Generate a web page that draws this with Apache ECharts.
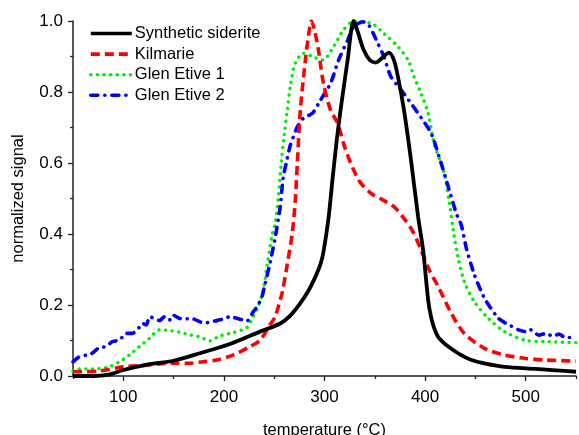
<!DOCTYPE html>
<html>
<head>
<meta charset="utf-8">
<script src="https://cdn.jsdelivr.net/npm/echarts@6/dist/echarts.min.js"></script>
<style>
html,body{margin:0;padding:0;background:#fff;}
#chart{width:579px;height:435px;}
</style>
</head>
<body>
<div id="chart"></div>
<script>
// ---- data ----
const seriesNames = ['Synthetic siderite', 'Kilmarie', 'Glen Etive 1', 'Glen Etive 2'];

const sideriteT = [50, 70, 86, 100, 124, 150, 176, 206, 236, 256, 266, 276, 284, 291, 296, 299, 304, 308, 312, 316, 323, 329, 333, 339, 345, 351, 357, 364, 369, 373, 379, 386, 393, 398, 403, 406, 409, 413, 418, 423, 435, 446, 460, 479, 510, 530, 550];
const sideriteY = [0.0, 0.0, 0.004, 0.017, 0.032, 0.043, 0.064, 0.09, 0.125, 0.148, 0.17, 0.205, 0.24, 0.28, 0.315, 0.35, 0.445, 0.555, 0.66, 0.75, 0.89, 1.0, 0.97, 0.918, 0.89, 0.883, 0.895, 0.911, 0.89, 0.843, 0.749, 0.608, 0.449, 0.355, 0.215, 0.165, 0.135, 0.11, 0.095, 0.083, 0.06, 0.045, 0.035, 0.026, 0.02, 0.016, 0.012];

const kilmarieT = [50, 75, 100, 120, 149, 166, 179, 193, 209, 226, 236, 246, 251, 256, 258, 263, 268, 271, 273, 276, 281, 284, 287, 290, 294, 299, 306, 313, 321, 334, 346, 358, 369, 379, 388, 396, 404, 413, 426, 439, 459, 479, 499, 519, 550];
const kilmarieY = [0.012, 0.014, 0.026, 0.03, 0.036, 0.036, 0.04, 0.045, 0.059, 0.083, 0.101, 0.145, 0.167, 0.215, 0.235, 0.315, 0.403, 0.496, 0.6, 0.749, 0.89, 0.956, 1.0, 0.975, 0.918, 0.824, 0.749, 0.712, 0.637, 0.552, 0.515, 0.496, 0.477, 0.444, 0.406, 0.355, 0.299, 0.252, 0.177, 0.12, 0.078, 0.059, 0.05, 0.045, 0.042];

const glen1T = [50, 56, 70, 86, 96, 106, 116, 126, 136, 146, 156, 166, 176, 186, 196, 209, 223, 229, 234, 239, 243, 248, 251, 254, 257, 260, 263, 266, 271, 279, 288, 298, 309, 319, 329, 346, 359, 373, 383, 389, 396, 403, 409, 419, 424, 428, 433, 439, 449, 463, 479, 499, 519, 550];
const glen1Y = [0.014, 0.02, 0.02, 0.026, 0.04, 0.059, 0.083, 0.106, 0.13, 0.128, 0.123, 0.116, 0.11, 0.099, 0.113, 0.122, 0.137, 0.167, 0.195, 0.24, 0.313, 0.397, 0.43, 0.5, 0.6, 0.68, 0.749, 0.815, 0.881, 0.909, 0.9, 0.89, 0.928, 0.975, 0.998, 0.994, 0.965, 0.928, 0.89, 0.843, 0.796, 0.74, 0.655, 0.571, 0.49, 0.41, 0.331, 0.266, 0.209, 0.162, 0.125, 0.101, 0.097, 0.094];

const glen2T = [50, 56, 63, 69, 76, 83, 89, 96, 103, 109, 114, 119, 123, 126, 131, 136, 141, 146, 149, 156, 163, 169, 176, 181, 186, 193, 199, 206, 216, 223, 229, 234, 238, 241, 246, 251, 256, 259, 262, 266, 273, 279, 288, 296, 306, 314, 323, 329, 338, 344, 353, 359, 366, 376, 386, 393, 406, 416, 423, 431, 436, 441, 449, 459, 473, 486, 493, 500, 505, 513, 520, 527, 533, 540, 550];
const glen2Y = [0.04, 0.054, 0.059, 0.064, 0.08, 0.083, 0.097, 0.101, 0.12, 0.12, 0.13, 0.148, 0.144, 0.167, 0.162, 0.156, 0.167, 0.158, 0.172, 0.162, 0.161, 0.161, 0.153, 0.148, 0.153, 0.156, 0.16, 0.167, 0.16, 0.155, 0.18, 0.2, 0.225, 0.26, 0.32, 0.39, 0.477, 0.561, 0.6, 0.65, 0.702, 0.726, 0.74, 0.777, 0.824, 0.89, 0.946, 0.984, 0.998, 0.989, 0.937, 0.9, 0.843, 0.806, 0.768, 0.74, 0.684, 0.599, 0.533, 0.458, 0.425, 0.36, 0.285, 0.219, 0.162, 0.14, 0.13, 0.125, 0.13, 0.115, 0.12, 0.112, 0.118, 0.108, 0.11];

const xMajorTicks = [100, 200, 300, 400, 500];
const xMinorTicks = [50, 150, 250, 350, 450, 550];
const yTickInterval = 0.2;

const axisTitleX = 'temperature (\u00B0C)';
const axisTitleY = 'normalized signal';

// ---- chart ----
function pairs(t, y) { return t.map((v, i) => [v, y[i]]); }

const FONT = '"Liberation Sans", Arial, sans-serif';
const AXIS_COLOR = '#222';

const chart = echarts.init(document.getElementById('chart'), null, {renderer: 'canvas'});

chart.setOption({
  animation: false,
  backgroundColor: '#fff',
  textStyle: {fontFamily: FONT, color: '#000'},
  grid: {left: 73, right: 3, top: 21, bottom: 59, containLabel: false, outerBoundsMode: 'none'},
  legend: {
    orient: 'vertical',
    left: 89,
    top: 25,
    itemWidth: 41,
    itemHeight: 14,
    itemGap: 3.6,
    padding: 0,
    itemStyle: {opacity: 0},
    lineStyle: {width: 3.6},
    textStyle: {fontSize: 16.5, color: '#000', fontFamily: FONT, padding: [0, 0, 0, -2]},
    data: seriesNames
  },
  xAxis: [{
    type: 'value',
    min: 50,
    max: 550,
    name: axisTitleX,
    nameLocation: 'middle',
    nameGap: 46,
    nameTextStyle: {fontSize: 16.5, color: '#000', fontFamily: FONT},
    axisLine: {show: true, onZero: false, lineStyle: {color: AXIS_COLOR, width: 1.5}},
    axisTick: {show: true, customValues: xMajorTicks, length: 5, lineStyle: {color: AXIS_COLOR, width: 1.3}},
    axisLabel: {customValues: xMajorTicks, fontSize: 17, color: '#000', margin: 13, fontFamily: FONT},
    splitLine: {show: false}
  }, {
    type: 'value',
    min: 50,
    max: 550,
    position: 'bottom',
    axisLine: {show: false},
    axisTick: {show: true, customValues: xMinorTicks, length: 3, lineStyle: {color: AXIS_COLOR, width: 1.3}},
    axisLabel: {show: false},
    splitLine: {show: false}
  }],
  yAxis: {
    type: 'value',
    min: 0,
    max: 1,
    interval: yTickInterval,
    name: axisTitleY,
    nameLocation: 'middle',
    nameGap: 46,
    nameTextStyle: {fontSize: 16.5, color: '#000', fontFamily: FONT},
    axisLine: {show: true, onZero: false, lineStyle: {color: AXIS_COLOR, width: 1.5}},
    axisTick: {show: true, length: 5, lineStyle: {color: AXIS_COLOR, width: 1.3}},
    minorTick: {show: true, splitNumber: 2, length: 3, lineStyle: {color: AXIS_COLOR, width: 1.3}},
    axisLabel: {fontSize: 17, color: '#000', margin: 10, fontFamily: FONT, formatter: v => v.toFixed(1)},
    splitLine: {show: false}
  },
  series: [
    {
      name: seriesNames[0], type: 'line', symbol: 'none', smooth: 0.3, z: 5,
      data: pairs(sideriteT, sideriteY),
      lineStyle: {color: '#000', width: 3.8, type: 'solid'},
      itemStyle: {color: '#000'}
    },
    {
      name: seriesNames[1], type: 'line', symbol: 'none', smooth: 0.3, z: 4,
      data: pairs(kilmarieT, kilmarieY),
      lineStyle: {color: '#ff0000', width: 3.6, type: [9, 5], cap: 'butt'},
      itemStyle: {color: '#ff0000'}
    },
    {
      name: seriesNames[2], type: 'line', symbol: 'none', smooth: 0.3, z: 3,
      data: pairs(glen1T, glen1Y),
      lineStyle: {color: '#00ee00', width: 3.4, type: [0.1, 6.5], cap: 'round'},
      itemStyle: {color: '#00ee00'}
    },
    {
      name: seriesNames[3], type: 'line', symbol: 'none', smooth: 0.2, z: 3,
      data: pairs(glen2T, glen2Y),
      lineStyle: {color: '#0000ff', width: 3.6, type: [7, 7, 0.1, 7], cap: 'round'},
      itemStyle: {color: '#0000ff'}
    }
  ]
});
</script>
</body>
</html>
